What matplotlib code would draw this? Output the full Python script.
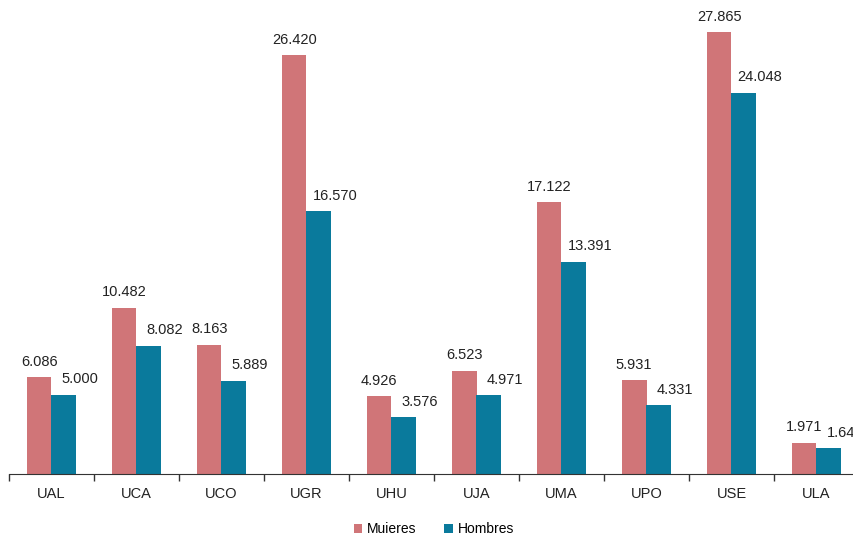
import numpy as np
import matplotlib.pyplot as plt

universidades = ["UAL", "UCA", "UCO", "UGR", "UHU", "UJA", "UMA", "UPO", "USE", "ULA"]
mujeres = [6086, 10482, 8163, 26420, 4926, 6523, 17122, 5931, 27865, 1971]
hombres = [5000, 8082, 5889, 16570, 3576, 4971, 13391, 4331, 24048, 1645]

COLOR_M = "#D07578"
COLOR_H = "#0A7A9C"

plt.rcParams["font.family"] = ["Liberation Sans", "DejaVu Sans"]


def fmt(v):
    return f"{v:,}".replace(",", ".")


fig = plt.figure(figsize=(8.54, 5.35), dpi=100)
ax = fig.add_axes([9 / 854, 61 / 535, 850 / 854, 472.6 / 535])

x = np.arange(len(universidades))
w = 0.29
bars_m = ax.bar(x - w / 2, mujeres, w, color=COLOR_M, label="Muieres")
bars_h = ax.bar(x + w / 2, hombres, w, color=COLOR_H, label="Hombres")

for b, v in zip(bars_m, mujeres):
    ax.annotate(fmt(v), (b.get_x() + b.get_width() / 2, v), xytext=(0, 6),
                textcoords="offset points", ha="center", va="bottom",
                fontsize=10.5, color="#222222", annotation_clip=False)
for b, v in zip(bars_h, hombres):
    ax.annotate(fmt(v), (b.get_x() + b.get_width() / 2, v), xytext=(11.5, 6),
                textcoords="offset points", ha="center", va="bottom",
                fontsize=10.5, color="#222222", annotation_clip=False)

ax.set_xlim(-0.5, len(universidades) - 0.5)
ax.set_ylim(0, 29800)
ax.set_xticks(x)
ax.set_xticklabels(universidades, fontsize=10.5, color="#222222")
ax.set_xticks(np.arange(len(universidades)) - 0.5, minor=True)
ax.tick_params(axis="x", which="major", length=0, pad=9)
ax.tick_params(axis="x", which="minor", length=5, width=1, color="#333333")
ax.set_yticks([])
for s in ["top", "right", "left"]:
    ax.spines[s].set_visible(False)
ax.spines["bottom"].set_color("#333333")

fig.legend(handles=[bars_m, bars_h], labels=["Muieres", "Hombres"],
           loc="center", bbox_to_anchor=(434 / 854, 1 - 529 / 535), ncol=2,
           frameon=False, fontsize=10, handlelength=0.6, handleheight=0.6,
           columnspacing=2.0, handletextpad=0.35)

fig.savefig("out.png", dpi=100)
